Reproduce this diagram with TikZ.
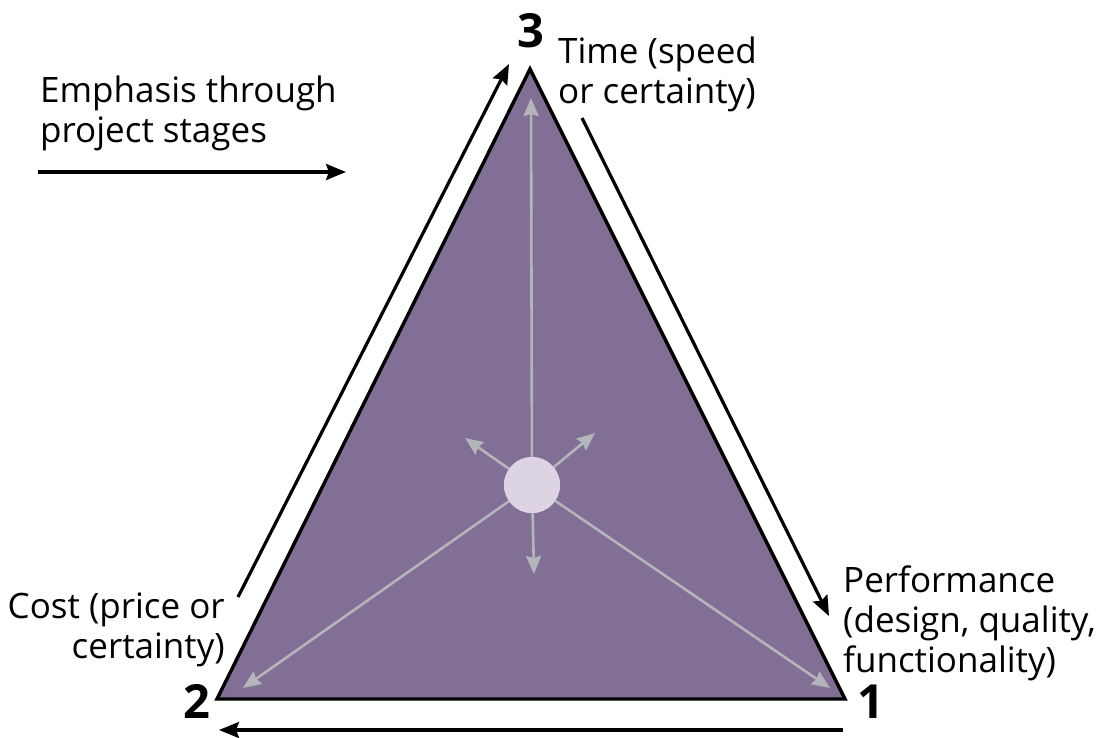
\documentclass[tikz,border=0pt]{standalone}
\usepackage{fontspec}
\setmainfont{Open Sans}
\usetikzlibrary{arrows.meta,positioning}
\definecolor{trifill}{RGB}{129,111,150}
\definecolor{hubfill}{RGB}{221,212,227}
\definecolor{spoke}{RGB}{178,182,184}

\begin{document}
\begin{tikzpicture}[
        x=1pt, y=-1pt,
        flow/.style={-{Stealth[length=20pt, width=16pt, inset=3pt]}, line width=3.2pt, black},
        spokearrow/.style={-{Stealth[length=18pt, width=15pt, inset=2pt]}, line width=2.6pt, spoke},
        txt/.style={font=\fontsize{35}{40}\selectfont, inner sep=0pt},
        cornernum/.style={font=\fontsize{47}{50}\selectfont\bfseries, inner sep=0pt, anchor=base west}
    ]
        \useasboundingbox (0,0) rectangle (1099,737);

        % triangle corners
        \coordinate (v1) at (845,699);
        \coordinate (v2) at (217,699);
        \coordinate (v3) at (530,69);
        \fill[trifill] (v1) -- (v2) -- (v3) -- cycle;

        % spokes from the hub
        \node[circle, fill=hubfill, minimum size=56pt, inner sep=0pt] (hub) at (532,485) {};
        \coordinate (tip3) at (531,98);
        \coordinate (tip2) at (243,688);
        \coordinate (tip1) at (830,688);
        \coordinate (tipul) at (465,438);
        \coordinate (tipur) at (595,433);
        \coordinate (tipdn) at (534,574);
        \draw[spokearrow] (hub) -- (tip3);
        \draw[spokearrow] (hub) -- (tip2);
        \draw[spokearrow] (hub) -- (tip1);
        \draw[spokearrow] (hub) -- (tipul);
        \draw[spokearrow] (hub) -- (tipur);
        \draw[spokearrow] (hub) -- (tipdn);
        \node[circle, fill=hubfill, minimum size=56pt, inner sep=0pt] at (hub) {};

        \draw[line width=3.4pt, line join=miter] (v1) -- (v2) -- (v3) -- cycle;

        % corner numbers
        \node[cornernum] (n3) at (517,47) {3};
        \node[cornernum] (n2) at (183,718) {2};
        \node[cornernum] (n1) at (857,718) {1};

        % corner labels (anchored on their last line)
        \node[txt, anchor=base west, align=left] (time) at (558,103) {Time (speed\\or certainty)};
        \node[txt, anchor=base west, align=left] (perf) at (843,672) {Performance\\(design, quality,\\functionality)};
        \node[txt, anchor=base east, align=right] (cost) at (225,658) {Cost (price or\\certainty)};

        % direction of emphasis
        \node[txt, anchor=base west, align=left] (emph) at (40,142) {Emphasis through\\project stages};
        \coordinate (emph-a) at (38,172);
        \coordinate (emph-b) at (346,172);
        \draw[flow] (emph-a) -- (emph-b);

        \coordinate (up-a) at (238,597);
        \coordinate (up-b) at (509,64);
        \draw[flow] (up-a) -- (up-b);
        \coordinate (dn-a) at (582,118);
        \coordinate (dn-b) at (829,616);
        \draw[flow] (dn-a) -- (dn-b);
        \coordinate (bt-a) at (843,730);
        \coordinate (bt-b) at (219,730);
        \draw[flow] (bt-a) -- (bt-b);

    \end{tikzpicture}
\end{document}
